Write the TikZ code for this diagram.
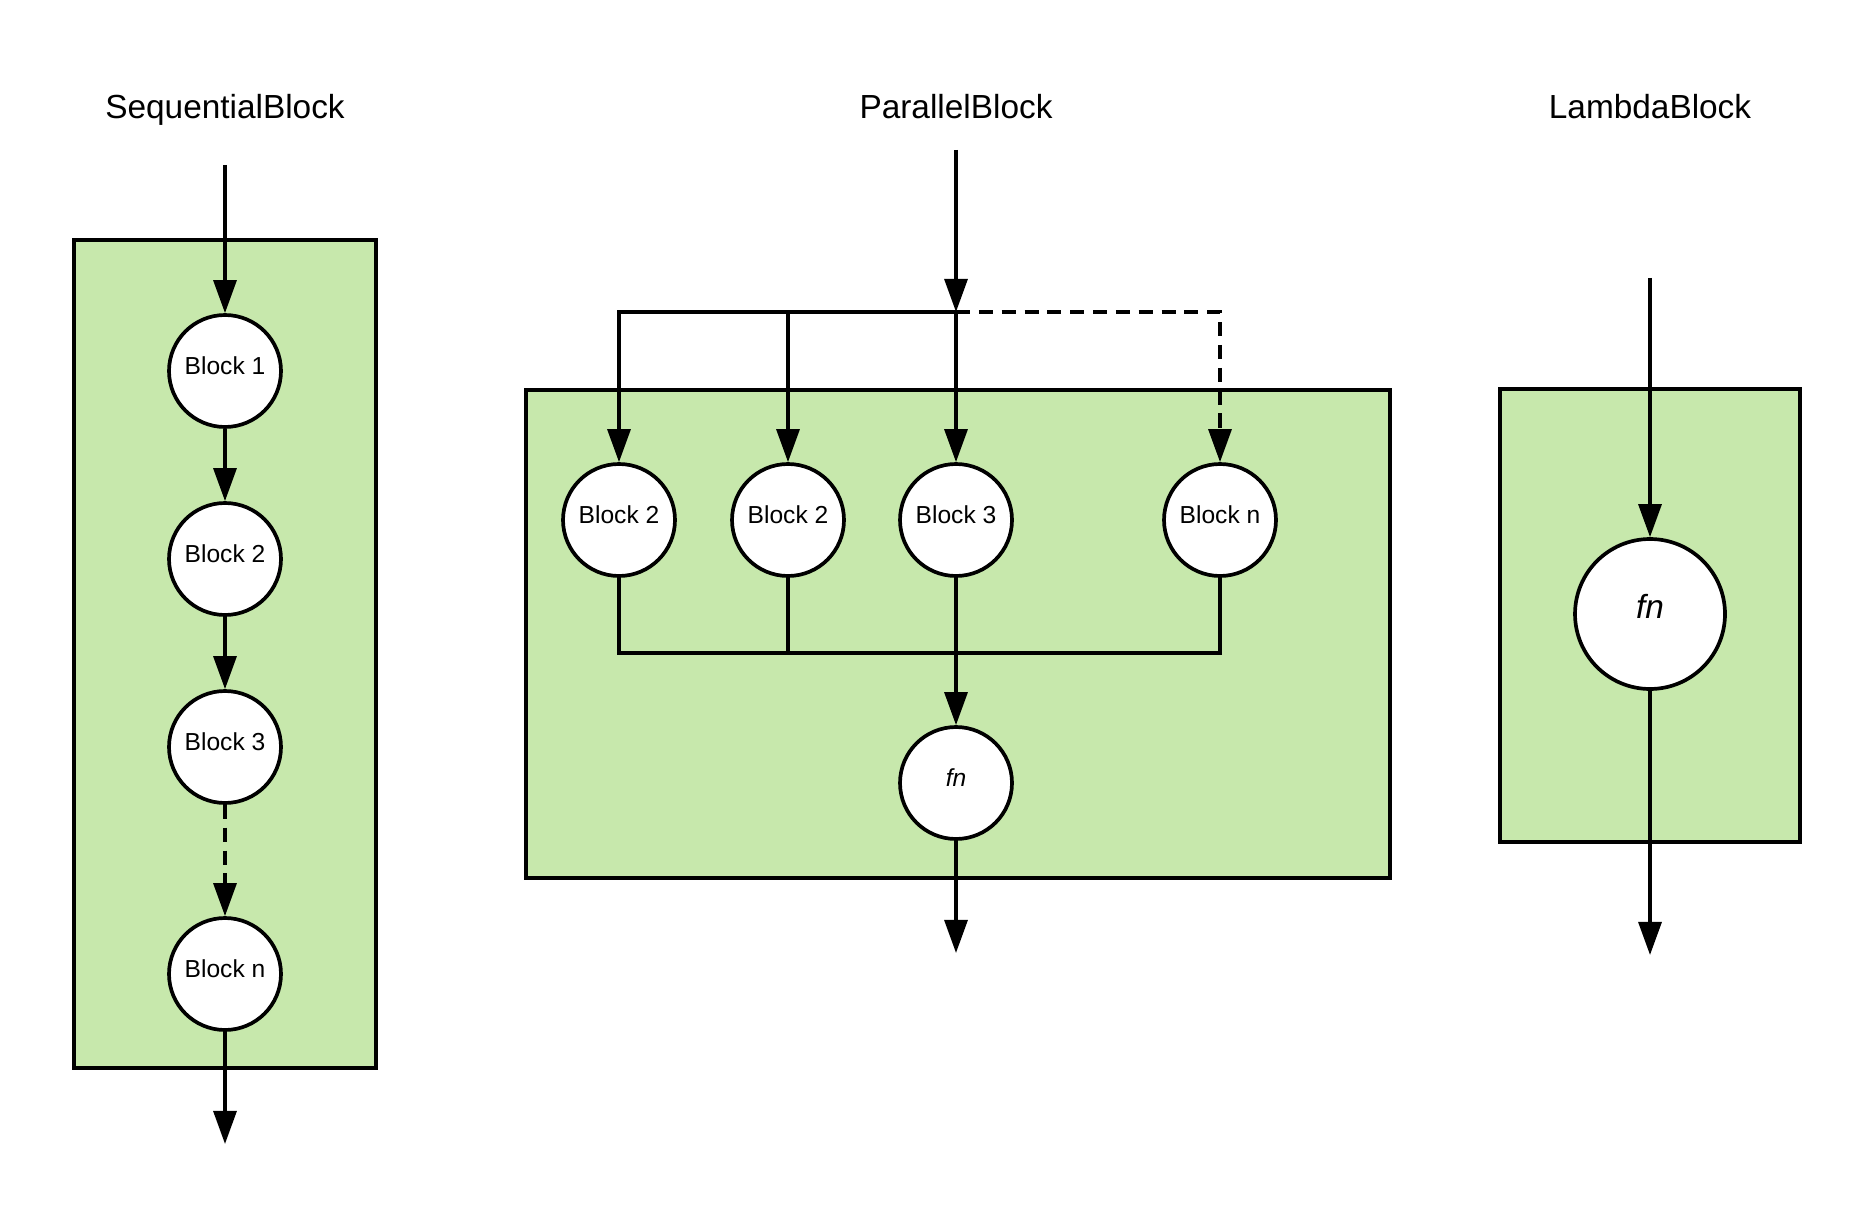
\documentclass[tikz,border=0pt]{standalone}
\usepackage{fontspec}
\setmainfont{Liberation Sans}
\usepackage{xcolor}
\usepackage{tikz}
\usetikzlibrary{positioning,calc,arrows.meta}
\definecolor{blockgreen}{HTML}{C7E8AC}

\begin{document}
\begin{tikzpicture}[x=0.02cm, y=-0.02cm,
    title/.style={anchor=base, font=\fontsize{19}{22}\selectfont},
    frame/.style={draw, fill=blockgreen, line width=2.1pt},
    blk/.style={circle, draw, fill=white, line width=2.1pt, minimum size=2.24cm, inner sep=0pt, text height=10pt, text depth=6pt, font=\fontsize{14}{16}\selectfont},
    bigfn/.style={blk, minimum size=3cm, text height=13pt, text depth=8pt, font=\fontsize{19}{22}\selectfont\itshape},
    arr/.style={line width=2.1pt, -{Triangle[length=18.8pt, width=13pt]}},
    thinline/.style={line width=1.8pt},
    dashline/.style={dash pattern=on 8pt off 5pt}]
    \useasboundingbox (0,0) rectangle (1875,1209);

    \node[title] (seqtitle) at (225,119) {SequentialBlock};
    \node[title] (partitle) at (956,119) {ParallelBlock};
    \node[title] (lamtitle) at (1650,119) {LambdaBlock};

    \draw[frame] (74,240) rectangle (376,1068);
    \draw[frame] (526,390) rectangle (1390,878);
    \draw[frame] (1500,389) rectangle (1800,842);

    \node[blk] (sb1) at (225,371) {Block 1};
    \node[blk] (sb2) at (225,559) {Block 2};
    \node[blk] (sb3) at (225,747) {Block 3};
    \node[blk] (sbn) at (225,974) {Block n};
    \coordinate (sin) at (225,165);
    \coordinate (sout) at (225,1144);
    \draw[arr] (sin) -- (sb1);
    \draw[arr] (sb1) -- (sb2);
    \draw[arr] (sb2) -- (sb3);
    \draw[arr, dashline] (sb3) -- (sbn);
    \draw[arr] (sbn) -- (sout);

    \node[blk] (pb1) at (619,520) {Block 2};
    \node[blk] (pb2) at (788,520) {Block 2};
    \node[blk] (pb3) at (956,520) {Block 3};
    \node[blk] (pbn) at (1220,520) {Block n};
    \node[blk, font=\fontsize{14}{16}\selectfont\itshape] (pfn) at (956,783) {fn};
    \coordinate (pin) at (956,150);
    \coordinate (pj) at (956,312);
    \coordinate (pm) at (956,653);
    \coordinate (pout) at (956,953);
    \draw[arr] (pin) -- (pj);
    \draw[arr] (pj) -- (pb1 |- pj) -- (pb1);
    \draw[arr, dashline] (pj) -- (pbn |- pj) -- (pbn);
    \draw[arr] (pb2 |- pj) -- (pb2);
    \draw[arr] (pj) -- (pb3);
    \draw[thinline] (pb1) -- (pb1 |- pm) -- (pbn |- pm) -- (pbn);
    \draw[thinline] (pb2) -- (pb2 |- pm);
    \draw[arr] (pb3) -- (pfn);
    \draw[arr] (pfn) -- (pout);

    \node[bigfn] (lfn) at (1650,614) {fn};
    \coordinate (lin) at (1650,278);
    \coordinate (lout) at (1650,955);
    \draw[arr] (lin) -- (lfn);
    \draw[arr] (lfn) -- (lout);
\end{tikzpicture}
\end{document}
